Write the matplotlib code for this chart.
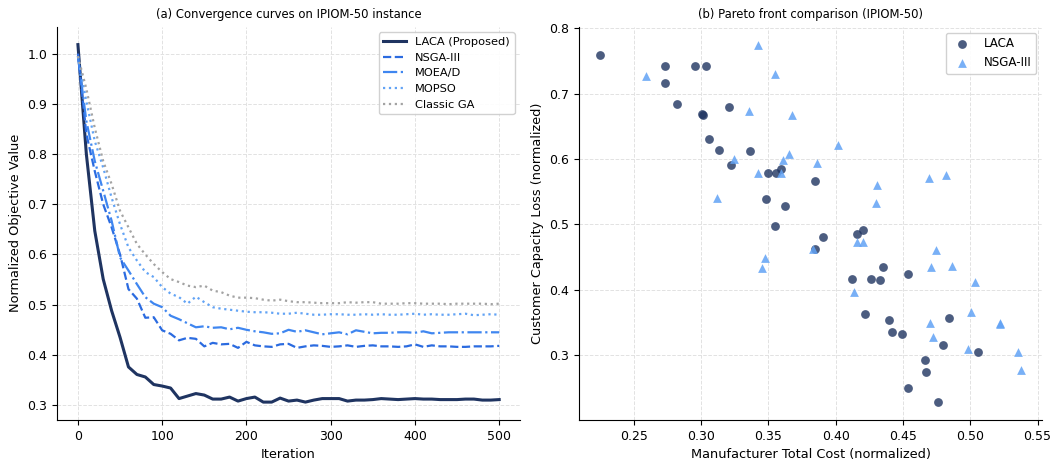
import numpy as np
import matplotlib
matplotlib.use("Agg")
import matplotlib.pyplot as plt

# (a) convergence curves, one value every 10 iterations
iterations = np.arange(0, 501, 10)

laca = [1.018, 0.800, 0.647, 0.551, 0.488, 0.435, 0.376, 0.361, 0.356, 0.341,
        0.338, 0.334, 0.313, 0.318, 0.323, 0.320, 0.312, 0.312, 0.316, 0.308,
        0.313, 0.316, 0.306, 0.306, 0.314, 0.308, 0.310, 0.306, 0.310, 0.313,
        0.313, 0.313, 0.308, 0.310, 0.310, 0.311, 0.313, 0.312, 0.311, 0.312,
        0.313, 0.312, 0.312, 0.311, 0.311, 0.311, 0.312, 0.312, 0.310, 0.310,
        0.311]
nsga3 = [1.000, 0.840, 0.766, 0.700, 0.654, 0.600, 0.531, 0.512, 0.474, 0.475,
         0.449, 0.442, 0.429, 0.434, 0.432, 0.417, 0.424, 0.421, 0.422, 0.414,
         0.426, 0.419, 0.417, 0.416, 0.421, 0.422, 0.414, 0.417, 0.419, 0.418,
         0.416, 0.417, 0.419, 0.416, 0.418, 0.419, 0.417, 0.417, 0.416, 0.417,
         0.421, 0.416, 0.419, 0.417, 0.417, 0.416, 0.416, 0.417, 0.417, 0.417,
         0.418]
moead = [0.995, 0.866, 0.786, 0.727, 0.667, 0.594, 0.568, 0.541, 0.515, 0.502,
         0.495, 0.478, 0.471, 0.463, 0.455, 0.457, 0.454, 0.455, 0.451, 0.454,
         0.450, 0.447, 0.445, 0.442, 0.443, 0.450, 0.446, 0.449, 0.445, 0.441,
         0.443, 0.445, 0.441, 0.449, 0.446, 0.443, 0.444, 0.444, 0.445, 0.445,
         0.444, 0.447, 0.443, 0.444, 0.445, 0.445, 0.445, 0.445, 0.445, 0.445,
         0.445]
mopso = [0.995, 0.905, 0.826, 0.773, 0.713, 0.660, 0.614, 0.588, 0.565, 0.555,
         0.535, 0.522, 0.515, 0.502, 0.516, 0.505, 0.495, 0.492, 0.490, 0.488,
         0.486, 0.485, 0.485, 0.484, 0.482, 0.482, 0.484, 0.482, 0.480, 0.480,
         0.481, 0.481, 0.480, 0.480, 0.481, 0.480, 0.481, 0.480, 0.480, 0.481,
         0.482, 0.480, 0.481, 0.480, 0.480, 0.481, 0.482, 0.479, 0.480, 0.481,
         0.480]
classic_ga = [0.995, 0.930, 0.852, 0.786, 0.740, 0.687, 0.654, 0.621, 0.600, 0.581,
              0.565, 0.551, 0.545, 0.538, 0.535, 0.538, 0.528, 0.525, 0.518, 0.514,
              0.514, 0.513, 0.510, 0.508, 0.510, 0.507, 0.505, 0.505, 0.504, 0.503,
              0.503, 0.503, 0.505, 0.504, 0.505, 0.505, 0.502, 0.502, 0.502, 0.503,
              0.503, 0.502, 0.502, 0.502, 0.501, 0.502, 0.502, 0.502, 0.502, 0.501,
              0.502]

# (b) pareto fronts: cost, capacity loss
laca_cost = [0.225, 0.273, 0.2955, 0.304, 0.2735, 0.282, 0.321, 0.301, 0.3015, 0.3057,
             0.313, 0.3364, 0.3223, 0.350, 0.356, 0.3597, 0.385, 0.348, 0.362, 0.355,
             0.3906, 0.385, 0.4158, 0.4203, 0.4349, 0.4537, 0.4119, 0.426, 0.4327, 0.4218,
             0.4396, 0.4844, 0.4418, 0.449, 0.480, 0.506, 0.4666, 0.4668, 0.454, 0.4757]
laca_loss = [0.759, 0.743, 0.743, 0.742, 0.717, 0.684, 0.680, 0.669, 0.668, 0.630,
             0.613, 0.612, 0.591, 0.579, 0.579, 0.585, 0.567, 0.539, 0.528, 0.498,
             0.481, 0.463, 0.485, 0.491, 0.435, 0.424, 0.417, 0.417, 0.415, 0.363,
             0.354, 0.357, 0.336, 0.332, 0.315, 0.304, 0.292, 0.274, 0.250, 0.228]
nsga_cost = [0.3426, 0.2594, 0.3552, 0.3354, 0.3678, 0.4017, 0.3243, 0.3609, 0.3653, 0.3864,
             0.3421, 0.3597, 0.3116, 0.4693, 0.4819, 0.4307, 0.4302, 0.4158, 0.4203, 0.3832,
             0.3473, 0.345, 0.4748, 0.4708, 0.4866, 0.4136, 0.5032, 0.5005, 0.4698, 0.5218,
             0.5223, 0.472, 0.498, 0.5351, 0.538]
nsga_loss = [0.775, 0.727, 0.730, 0.673, 0.667, 0.622, 0.600, 0.599, 0.607, 0.594,
             0.578, 0.578, 0.540, 0.571, 0.576, 0.560, 0.533, 0.473, 0.473, 0.462,
             0.448, 0.433, 0.461, 0.435, 0.437, 0.396, 0.411, 0.366, 0.349, 0.349,
             0.347, 0.327, 0.310, 0.304, 0.277]

NAVY = "#1f3461"
BLUE = "#2b6be0"
MID_BLUE = "#3f86f0"
LIGHT_BLUE = "#62a3f5"
GREY = "#a3a3a3"

fig, (ax1, ax2) = plt.subplots(1, 2, figsize=(10.53, 4.61), dpi=100)
fig.subplots_adjust(left=0.054, right=0.99, bottom=0.089, top=0.942, wspace=0.127)

ax1.plot(iterations, laca, color=NAVY, lw=2.2, label="LACA (Proposed)")
ax1.plot(iterations, nsga3, color=BLUE, lw=1.6, ls="--", label="NSGA-III")
ax1.plot(iterations, moead, color=MID_BLUE, lw=1.6, ls="-.", label="MOEA/D")
ax1.plot(iterations, mopso, color=LIGHT_BLUE, lw=1.6, ls=":", label="MOPSO")
ax1.plot(iterations, classic_ga, color=GREY, lw=1.6, ls=":", label="Classic GA")
ax1.set_title("(a) Convergence curves on IPIOM-50 instance", fontsize=8.4)
ax1.set_xlabel("Iteration", fontsize=9.3)
ax1.set_ylabel("Normalized Objective Value", fontsize=9.3)
ax1.legend(loc="upper right", fontsize=8.2, framealpha=0.9)

ax2.scatter(laca_cost, laca_loss, s=40, color=NAVY, alpha=0.8, label="LACA", linewidths=0)
ax2.scatter(nsga_cost, nsga_loss, s=40, marker="^", color=LIGHT_BLUE, alpha=0.85,
            label="NSGA-III", linewidths=0)
ax2.set_title("(b) Pareto front comparison (IPIOM-50)", fontsize=8.4)
ax2.set_xlabel("Manufacturer Total Cost (normalized)", fontsize=9.3)
ax2.set_ylabel("Customer Capacity Loss (normalized)", fontsize=9.3)
ax2.legend(loc="upper right", fontsize=8.6, framealpha=0.9)

for ax in (ax1, ax2):
    ax.grid(True, ls="--", lw=0.7, color="#e2e2e2")
    ax.set_axisbelow(True)
    ax.spines["top"].set_visible(False)
    ax.spines["right"].set_visible(False)
    ax.tick_params(labelsize=9)

fig.savefig("out.png", dpi=100)
